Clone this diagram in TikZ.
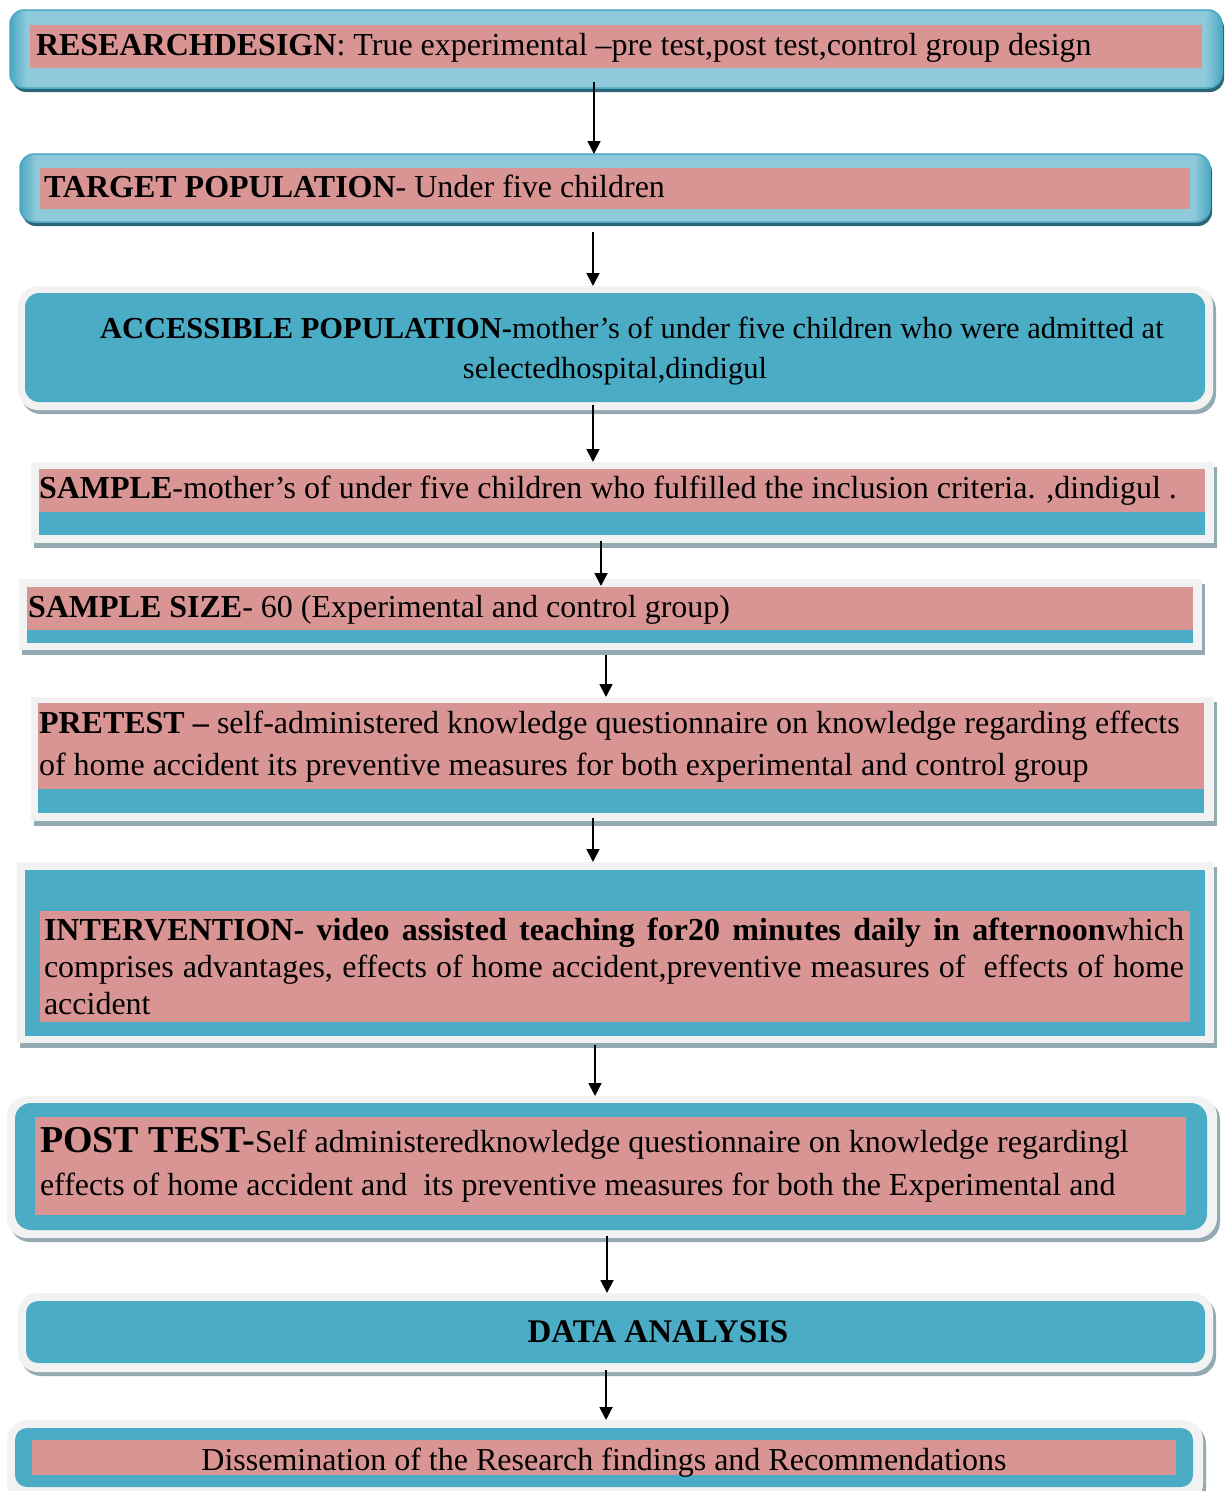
\documentclass[tikz,border=0pt]{standalone}
\usepackage{fontspec}
\setmainfont{Liberation Serif}
\usetikzlibrary{arrows.meta,shadows,calc}
\definecolor{pinkband}{HTML}{D99594}
\definecolor{panelblue}{HTML}{4BACC6}
\definecolor{glossfill}{HTML}{8FCADB}
\definecolor{glossedge}{HTML}{4AA8C2}
\definecolor{glossshadow}{HTML}{2B6678}
\definecolor{framegray}{HTML}{F2F2F2}
\definecolor{shadowgray}{HTML}{93AAB2}
% light fill with darker blue towards the left and right rims
\pgfdeclarehorizontalshading{glossrim}{100bp}{
  color(0bp)=(glossedge); color(25bp)=(glossedge); color(25.7bp)=(glossfill);
  color(74.3bp)=(glossfill); color(75bp)=(glossedge); color(100bp)=(glossedge)}
\tikzset{
  glossbox/.style={shading=glossrim, draw=glossedge, line width=1.5pt, rounded corners=14pt,
    inner sep=0pt, outer sep=0pt,
    drop shadow={shadow xshift=2pt, shadow yshift=-4pt, fill=glossshadow, opacity=1}},
  roundframe/.style={fill=framegray, draw=none, rounded corners=20pt, inner sep=0pt, outer sep=0pt,
    drop shadow={shadow xshift=3pt, shadow yshift=-4pt, fill=shadowgray, opacity=1}},
  squareframe/.style={fill=framegray, draw=none, inner sep=0pt, outer sep=0pt,
    drop shadow={shadow xshift=3pt, shadow yshift=-5pt, fill=shadowgray, opacity=1}},
  panel/.style={fill=panelblue},
  band/.style={fill=pinkband},
  txt/.style={inner sep=0pt, outer sep=0pt, anchor=base west, font=\fontsize{32}{36}\selectfont},
  flow/.style={-{Triangle[length=13pt,width=13pt]}, line width=1.8pt, black},
}
\begin{document}
\begin{tikzpicture}[x=1pt,y=-1pt]
\useasboundingbox (0,0) rectangle (1227,1491);

% ---- research design
\node[glossbox, minimum width=1212pt, minimum height=78pt] (design) at (616,49) {};
\fill[band] (30,25) rectangle (1202,68);
\node[txt] (t1) at (36,55) {\textbf{RESEARCHDESIGN}: True experimental –pre test,post test,control group design};

% ---- target population
\node[glossbox, minimum width=1190pt, minimum height=68pt] (target) at (615,188) {};
\fill[band] (40,168) rectangle (1190,209);
\node[txt] (t2) at (44,197) {\textbf{TARGET POPULATION}- Under five children};

% ---- accessible population
\node[roundframe, minimum width=1195pt, minimum height=124pt] (access) at (615.5,348) {};
\fill[panel, rounded corners=14pt] (25,293) rectangle (1205,402);
\node[txt, font=\fontsize{30.5}{34}\selectfont] (t3a) at (100,338) {\textbf{ACCESSIBLE POPULATION-}mother’s of under five children who were admitted at};
\node[txt, anchor=base, font=\fontsize{30.5}{34}\selectfont] (t3b) at (615,378) {selectedhospital,dindigul};

% ---- sample
\node[squareframe, minimum width=1183pt, minimum height=81pt] (sample) at (622.5,502.5) {};
\fill[panel] (39,512) rectangle (1205,535);
\fill[band] (39,469) rectangle (1205,512);
\node[txt] (t4) at (39,498) {\textbf{SAMPLE}-mother’s of under five children who fulfilled the inclusion criteria. ,dindigul .};

% ---- sample size
\node[squareframe, minimum width=1183pt, minimum height=71pt] (size) at (610.5,614.5) {};
\fill[panel] (27,630) rectangle (1193,643);
\fill[band] (27,587) rectangle (1193,630);
\node[txt] (t5) at (28,617) {\textbf{SAMPLE SIZE}- 60 (Experimental and control group)};

% ---- pretest
\node[squareframe, minimum width=1183pt, minimum height=124pt] (pretest) at (622.5,759) {};
\fill[panel] (38,789) rectangle (1204,813);
\fill[band] (38,703) rectangle (1204,789);
\node[txt] (t6a) at (39,733) {\textbf{PRETEST –} self-administered knowledge questionnaire on knowledge regarding effects};
\node[txt] (t6b) at (39,775) {of home accident its preventive measures for both experimental and control group};

% ---- intervention
\node[squareframe, minimum width=1197pt, minimum height=181pt] (intervention) at (615.5,952.5) {};
\fill[panel] (25,870) rectangle (1205,1036);
\fill[band] (40,911) rectangle (1190,1022);
\node[txt] (t7a) at (44,940) {\makebox[1140pt][s]{\textbf{INTERVENTION- video assisted teaching for20 minutes daily in afternoon}which}};
\node[txt] (t7b) at (44,977) {\makebox[1140pt][s]{comprises advantages, effects of home accident,preventive measures of \ effects of home}};
\node[txt] (t7c) at (44,1014) {accident};

% ---- post test
\node[roundframe, minimum width=1210pt, minimum height=142pt] (posttest) at (612,1167) {};
\fill[panel, rounded corners=16pt] (15,1103) rectangle (1207,1230);
\fill[band] (35,1117) rectangle (1186,1215);
\node[txt] (t8a) at (40,1152) {{\fontsize{38}{42}\selectfont\textbf{POST TEST-}}Self administeredknowledge questionnaire on knowledge regardingl};
\node[txt] (t8b) at (40,1195) {effects of home accident and \ its preventive measures for both the Experimental and};

% ---- data analysis
\node[roundframe, minimum width=1195pt, minimum height=79pt] (analysis) at (615.5,1332.5) {};
\fill[panel, rounded corners=12pt] (26,1301) rectangle (1205,1363);
\node[txt, anchor=base, font=\fontsize{33}{36}\selectfont] (t9) at (658,1342) {\textbf{DATA ANALYSIS}};

% ---- dissemination
\node[roundframe, minimum width=1196pt, minimum height=84pt] (dissem) at (605,1462) {};
\fill[panel, rounded corners=12pt] (15,1428) rectangle (1193,1487);
\fill[band] (32,1440) rectangle (1176,1475);
\node[txt, anchor=base] (t10) at (604,1470) {Dissemination of the Research findings and Recommendations};

% ---- connectors
\coordinate (a1) at ($(design.south)+(-22,-6)$);
\coordinate (a2) at ($(target.south)+(-22,10)$);
\coordinate (a3) at ($(access.south)+(-22.5,-5)$);
\coordinate (a4) at ($(sample.south)+(-21.5,-2)$);
\coordinate (b4) at ($(size.north)+(0,7)$);
\coordinate (a5) at ($(size.south)+(-4.5,5)$);
\coordinate (a6) at ($(pretest.south)+(-29.5,-3)$);
\coordinate (a7) at ($(intervention.south)+(-20.5,2)$);
\coordinate (a8) at ($(posttest.south)+(-5,-2)$);
\coordinate (a9) at ($(analysis.south)+(-9.5,-2)$);
\draw[flow] (a1) -- (a1 |- target.north);
\draw[flow] (a2) -- (a2 |- access.north);
\draw[flow] (a3) -- (a3 |- sample.north);
\draw[flow] (a4) -- (a4 |- b4);
\draw[flow] (a5) -- (a5 |- pretest.north);
\draw[flow] (a6) -- (a6 |- intervention.north);
\draw[flow] (a7) -- (a7 |- posttest.north);
\draw[flow] (a8) -- (a8 |- analysis.north);
\draw[flow] (a9) -- (a9 |- dissem.north);
\end{tikzpicture}
\end{document}
